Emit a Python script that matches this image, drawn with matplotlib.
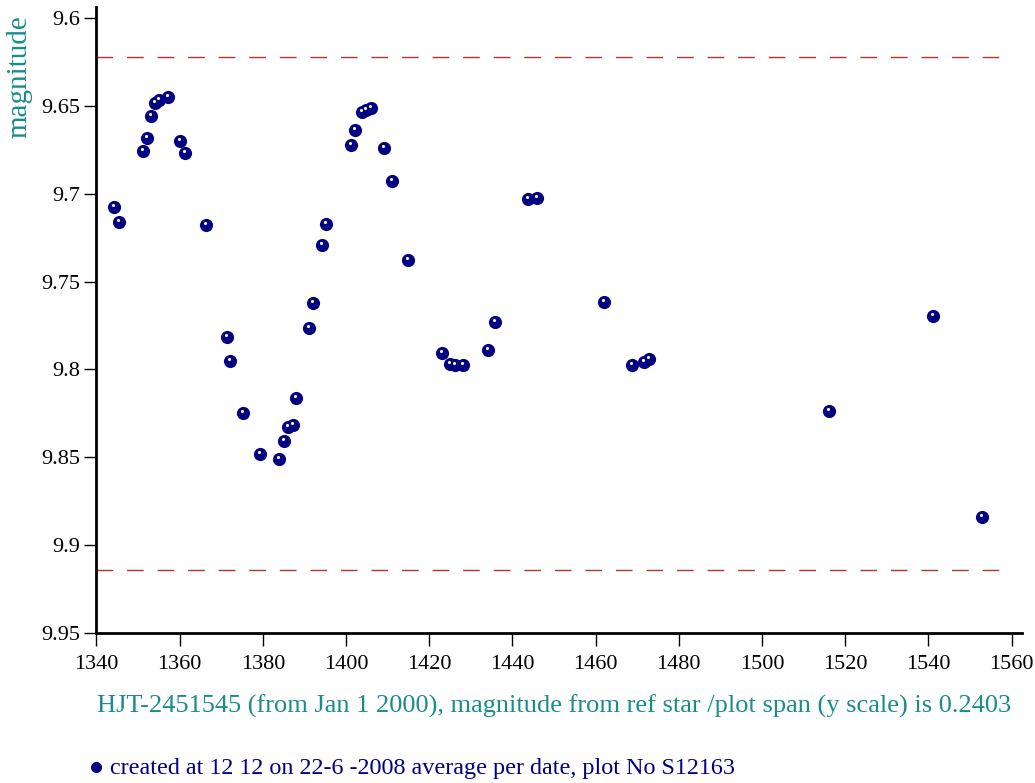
import matplotlib
matplotlib.use("Agg")
from matplotlib import pyplot as plt
from matplotlib import transforms

# days since HJD 2451545 and average magnitude per date
hjd = [1344.3, 1345.3, 1351.3, 1352.1, 1353.0, 1354.1, 1355.1, 1357.1,
       1360.1, 1361.3, 1366.3, 1371.3, 1372.2, 1375.2, 1379.3, 1384.0,
       1385.0, 1386.1, 1387.2, 1388.0, 1391.0, 1392.1, 1394.2, 1395.2,
       1401.1, 1402.1, 1403.9, 1404.7, 1406.1, 1409.2, 1411.1, 1415.0,
       1423.1, 1424.9, 1426.1, 1428.0, 1434.1, 1435.9, 1443.8, 1445.9,
       1461.9, 1468.8, 1471.7, 1472.9, 1516.0, 1541.0, 1553.0]
mag = [9.7077, 9.7163, 9.6753, 9.6681, 9.6556, 9.6480, 9.6463, 9.6448,
       9.6696, 9.6768, 9.7178, 9.7817, 9.7952, 9.8250, 9.8481, 9.8508,
       9.8409, 9.8326, 9.8316, 9.8161, 9.7766, 9.7622, 9.7290, 9.7171,
       9.6719, 9.6637, 9.6533, 9.6522, 9.6508, 9.6736, 9.6926, 9.7377,
       9.7909, 9.7970, 9.7975, 9.7975, 9.7891, 9.7732, 9.7032, 9.7024,
       9.7616, 9.7975, 9.7960, 9.7939, 9.8237, 9.7696, 9.8840]

limit_lines = [9.622, 9.9143]
xticks = list(range(1340, 1561, 20))
yticks = [9.6, 9.65, 9.7, 9.75, 9.8, 9.85, 9.9, 9.95]
ytick_labels = ['9.6', '9.65', '9.7', '9.75', '9.8', '9.85', '9.9', '9.95']

teal = '#1a8c8c'
navy = '#000080'

plt.rcParams['font.family'] = ['Liberation Serif', 'DejaVu Serif']

fig = plt.figure(figsize=(10.35, 7.83), dpi=100)
ax = fig.add_axes([0.0932, 0.1920, 0.8942, 0.7987])

for y in limit_lines:
    ax.hlines(y, 1340, 1559.5, colors='#b33333', linestyles=(0, (12, 10)), linewidth=1.0)

ax.scatter(hjd, mag, s=90, color=navy, zorder=3, linewidths=0)
# small white highlight on every dot
hl = ax.transData + transforms.ScaledTranslation(-1 / 100, 2 / 100, fig.dpi_scale_trans)
ax.scatter(hjd, mag, s=5, color='white', zorder=4, linewidths=0, transform=hl)

ax.set_xlim(1340, 1562.5)
ax.set_ylim(9.95, 9.5937)
ax.set_xticks(xticks)
ax.set_yticks(yticks)
ax.set_yticklabels(ytick_labels)
ax.tick_params(axis='both', labelsize=16, length=9, width=1, color='black')
ax.tick_params(axis='x', pad=7)
ax.tick_params(axis='y', pad=3)

ax.spines['top'].set_visible(False)
ax.spines['right'].set_visible(False)
ax.spines['left'].set_linewidth(2)
ax.spines['bottom'].set_linewidth(2)

fig.text(0.019, 0.98, 'magnitude', rotation=90, color=teal, fontsize=21,
         ha='center', va='top')
fig.text(0.535, 0.098, 'HJT-2451545 (from Jan 1 2000), magnitude from ref star /plot span (y scale) is 0.2403',
         color=teal, fontsize=19, ha='center', va='center')

# footer with a sample marker
fig.text(0.106, 0.019, 'created at 12 12 on 22-6 -2008 average per date, plot No S12163',
         color=navy, fontsize=17.4, ha='left', va='center')
fig.lines.append(plt.Line2D([0.093], [0.021], marker='o', markersize=7,
                            color=navy, transform=fig.transFigure))

fig.savefig('out.png', dpi=100)
